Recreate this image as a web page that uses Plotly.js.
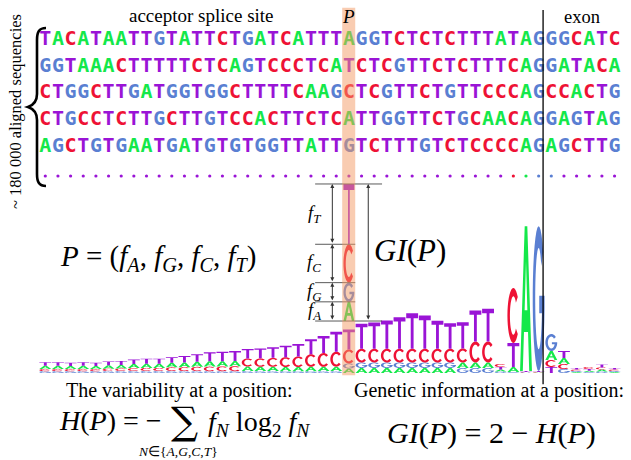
<!DOCTYPE html>
<html><head><meta charset="utf-8">
<script src="https://cdn.plot.ly/plotly-3.0.1.min.js"></script>
<style>html,body{margin:0;padding:0;background:#fff}#chart{width:631px;height:460px}</style>
</head><body><div id="chart"></div>
<script>
// ---------------- data ----------------
const seqRows = [
  "TACATAATTGTATTCTGATCATTTAGGTCTCTCTTTATAGGGCATC",
  "GGTAAACTTTTTCTCAGTCCCTCATCTCGTTCTCTTTCAGGATACA",
  "CTGGCTTGATGGTGGCTTTTCAAGCTCGTTCTGTTCCCAGCCACTG",
  "CTGCCTCTTGCTTGTCCACTTCTCATTGGTTCTGCAACAGGAGTAG",
  "AGCTGTGAATGATGTGTGGTTATTGTCTTTGTCTCCCCAGAGCTTG"
];
// colour of the "..." continuation dots (by nucleotide)
const dotRow = "TTTTTTTTTTTTTTTTTTTTTTTTTTTTTTTTTTTTTCAGGTTTTT";

// sequence-logo heights (bits) per column 1..46
const logoA = [0.043,0.043,0.041,0.043,0.041,0.045,0.047,0.053,0.056,0.056,0.060,0.061,0.067,0.071,0.069,0.069,
  0.060,0.057,0.057,0.056,0.056,0.059,0.057,0.059,
  0.060,
  0.067,0.067,0.067,0.067,0.067,0.067,0.067,0.067,
  0.073,0.073,0.073,
  0.027,0.067,1.933,0.007,0.120,0.080,0.013,0.016,0.027,0.013];
const logoC = [0.029,0.029,0.028,0.029,0.028,0.032,0.033,0.039,0.041,0.041,0.048,0.053,0.057,0.061,0.064,0.067,
  0.107,0.113,0.120,0.131,0.140,0.167,0.184,0.200,
  0.187,
  0.183,0.183,0.183,0.183,0.183,0.183,0.183,0.183,
  0.187,0.280,0.280,
  0.040,0.733,0.007,0.007,0.093,0.067,0.020,0.027,0.027,0.020];
const logoG = [0.024,0.024,0.024,0.024,0.024,0.025,0.027,0.027,0.027,0.027,0.027,0.025,0.025,0.024,0.024,0.024,
  0.027,0.025,0.025,0.024,0.024,0.024,0.025,0.025,
  0.067,
  0.073,0.073,0.073,0.073,0.073,0.073,0.073,0.073,
  0.067,0.067,0.067,
  0.020,0.013,0.007,1.933,0.227,0.053,0.013,0.013,0.020,0.013];
const logoT = [0.047,0.047,0.044,0.047,0.044,0.051,0.053,0.061,0.067,0.067,0.075,0.087,0.100,0.120,0.127,0.133,
  0.127,0.133,0.140,0.153,0.167,0.200,0.227,0.267,
  0.267,
  0.333,0.351,0.377,0.421,0.475,0.444,0.373,0.341,
  0.351,0.413,0.436,
  0.033,0.320,0.011,0.011,0.080,0.093,0.020,0.024,0.040,0.020];

// position P (column 25) frequencies, in stacking order
const pColumn = 25;
const pLetters = ["A","G","C","T"];
const pFreqs   = [0.14, 0.14, 0.28, 0.44];
const pLabels  = ["<i>f</i><sub><i>A</i></sub>","<i>f</i><sub><i>G</i></sub>","<i>f</i><sub><i>C</i></sub>","<i>f</i><sub><i>T</i></sub>"];

// ---------------- styling ----------------
const COL = {A:"#14e84a", C:"#ee1235", G:"#5a7fd2", T:"#9a14d6"};
const W = 631, H = 460;
const SERIF = "Liberation Serif, Times New Roman, serif";

// ---------------- glyphs ----------------
function arc(cx, cy, rx, ry, a0, a1, n){
  const pts=[]; for(let k=0;k<=n;k++){const a=(a0+(a1-a0)*k/n)*Math.PI/180; pts.push([cx+rx*Math.cos(a), cy+ry*Math.sin(a)]);} return pts;
}
function glyphUnit(L, opt){
  opt = opt||{};
  if(L==="T"){
    const b=opt.bar||0.14, s=opt.stem||0.24;
    return [[[0,1],[1,1],[1,1-b],[0.5+s/2,1-b],[0.5+s/2,0],[0.5-s/2,0],[0.5-s/2,1-b],[0,1-b]]];
  }
  if(L==="A"){
    return [[[0,0],[0.39,1],[0.61,1],[1,0],[0.77,0],[0.67,0.27],[0.33,0.27],[0.23,0]],
            [[0.385,0.42],[0.5,0.76],[0.615,0.42]]];
  }
  if(L==="C"){
    const o=arc(0.5,0.5,0.5,0.5,42,318,28), i=arc(0.5,0.5,0.29,0.35,318,42,28);
    return [o.concat(i)];
  }
  // G
  const o=arc(0.5,0.5,0.5,0.5,40,352,30);
  const bar=[[0.995,0.52],[0.55,0.52],[0.55,0.40],[0.79,0.40]];
  const i=arc(0.5,0.5,0.29,0.35,345,40,30);
  return [o.concat(bar,i)];
}
function glyphPath(L, cx, w, y0, h, opt){
  const polys = glyphUnit(L, opt);
  return polys.map(p => "M" + p.map(q => (cx - w/2 + q[0]*w).toFixed(4) + "," + (y0 + q[1]*h).toFixed(5)).join("L") + "Z").join(" ");
}
function glyphShape(L, cx, w, y0, h, opt){
  return {type:"path", xref:"x", yref:"y", path:glyphPath(L,cx,w,y0,h,opt), fillcolor:COL[L], fillrule:"evenodd", line:{width:0}, layer:"above"};
}

// ---------------- traces ----------------
const sx=[], sy=[], st=[], sc=[];
seqRows.forEach((row, r) => {
  for(let i=0;i<row.length;i++){ sx.push(i+1); sy.push(r+1); st.push(row[i]); sc.push(COL[row[i]]); }
});
const seqTrace = {type:"scatter", mode:"text", x:sx, y:sy, text:st, yaxis:"y2",
  textposition:"middle center", cliponaxis:false, hoverinfo:"skip",
  textfont:{family:"DejaVu Sans Mono, monospace", size:20, weight:"bold", color:sc}, showlegend:false};
const dx=[], dy=[], dc=[];
for(let i=0;i<dotRow.length;i++){ dx.push(i+1); dy.push(seqRows.length+1.1); dc.push(COL[dotRow[i]]); }
const dotTrace = {type:"scatter", mode:"markers", x:dx, y:dy, yaxis:"y2", hoverinfo:"skip",
  marker:{size:3.2, color:dc}, showlegend:false, cliponaxis:false};

// ---------------- shapes ----------------
const shapes = [];
for(let i=0;i<logoA.length;i++){
  const col=i+1;
  const stack=[["A",logoA[i]],["C",logoC[i]],["G",logoG[i]],["T",logoT[i]]].sort((a,b)=>a[1]-b[1]);
  let y=0;
  stack.forEach(([L,h])=>{ shapes.push(glyphShape(L,col,0.94,y,h)); y+=h; });
}
// magnified column at P
const magBase = 0.693, magScale = 1.827;
const bounds=[magBase];
{
  let y=magBase;
  pLetters.forEach((L,k)=>{
    const h=pFreqs[k]*magScale;
    shapes.push(glyphShape(L,pColumn,0.86,y,h, L==="T"?{bar:0.1,stem:0.15}:undefined));
    y+=h; bounds.push(y);
  });
}
// bracket lines
const lineStyle={color:"#5a5a5a", width:1};
bounds.forEach((b,k)=>{
  const full = (k===0 || k===bounds.length-1);
  shapes.push({type:"line", xref:"x", yref:"y", x0:22.33, x1: full?27.62:25.5, y0:b, y1:b, line:lineStyle, layer:"above"});
});
// exon boundary
shapes.push({type:"line", xref:"x", yref:"y", x0:40.35, x1:40.35, y0:-0.15, y1:4.84, line:{color:"#000", width:1.3}, layer:"above"});
// curly brace (pixel-space helper -> paper)
function P(x,y){ return (x/W).toFixed(5)+","+(1-y/H).toFixed(5); }
shapes.push({type:"path", xref:"paper", yref:"paper", line:{color:"#000", width:2.6},
  path:"M"+P(46,28)+" C"+P(39,28)+" "+P(37,32)+" "+P(37,40)+" L"+P(37,94)+" C"+P(37,101)+" "+P(34,105)+" "+P(28,107)+
       " C"+P(34,109)+" "+P(37,113)+" "+P(37,120)+" L"+P(37,174)+" C"+P(37,182)+" "+P(39,186)+" "+P(46,186)});
// highlight band
shapes.push({type:"rect", xref:"x", yref:"y", x0:pColumn-0.53, x1:pColumn+0.5, y0:-0.03, y1:4.87,
  fillcolor:"#f49a64", opacity:0.5, line:{width:0}, layer:"above"});

// ---------------- annotations ----------------
function txt(text, x, y, size, o){
  return Object.assign({text, x:x/W, y:1-y/H, xref:"paper", yref:"paper", showarrow:false,
    xanchor:"center", yanchor:"middle", font:{family:SERIF, size, color:"#000"}}, o||{});
}
const ann = [
  txt("acceptor splice site", 201, 15, 19),
  txt("<i>P</i>", 348, 16, 19),
  txt("exon", 582, 17, 18.5),
  txt("~ 180 000 aligned sequencies", 15, 112, 16.5, {textangle:-90}),
  txt("<i>P</i> = (<i>f</i><sub><i>A</i></sub>, <i>f</i><sub><i>G</i></sub>, <i>f</i><sub><i>C</i></sub>, <i>f</i><sub><i>T</i></sub>)", 158, 258, 29),
  txt("<i>GI</i>(<i>P</i>)", 410, 250, 31),
  txt("The variability at a position:", 179, 390, 20),
  txt("Genetic information at a position:", 489, 390, 20),
  txt("<i>H</i>(<i>P</i>) = −", 164, 420, 28, {xanchor:"right"}),
  txt("∑", 184, 421, 38, {font:{family:"DejaVu Serif, serif", size:38, color:"#000"}}),
  txt("<i>f</i><sub><i>N</i></sub> log<sub>2</sub> <i>f</i><sub><i>N</i></sub>", 206, 423, 28, {xanchor:"left"}),
  txt("<i>N</i>∈{<i>A</i>,<i>G</i>,<i>C</i>,<i>T</i>}", 178, 451, 13.5),
  txt("<i>GI</i>(<i>P</i>) = 2 − <i>H</i>(<i>P</i>)", 491, 433, 30)
];
// f labels (data coords, segment midpoints)
pLabels.forEach((lab,k)=>{
  ann.push({text:lab, x:22.25, y:(bounds[k]+bounds[k+1])/2, xref:"x", yref:"y", showarrow:false,
    xanchor:"center", yanchor:"middle", font:{family:SERIF, size:18.5, color:"#000"}});
});
// arrows
function arrow(x, y0, y1){
  return {x, y:y1, ax:x, ay:y0, xref:"x", yref:"y", axref:"x", ayref:"y", text:"", showarrow:true,
    arrowhead:2, arrowside:"end+start", arrowsize:0.8, arrowwidth:1, arrowcolor:"#333", standoff:0, startstandoff:0};
}
for(let k=0;k<pLetters.length;k++) ann.push(arrow(23.69, bounds[k], bounds[k+1]));
ann.push(arrow(26.53, bounds[0], bounds[bounds.length-1]));

const layout = {
  width:W, height:H, margin:{l:0,r:0,t:0,b:0}, paper_bgcolor:"#fff", plot_bgcolor:"#fff",
  xaxis:{range:[-2.581,47.30], visible:false, fixedrange:true},
  yaxis:{range:[-1.16,4.973], visible:false, fixedrange:true},
  yaxis2:{range:[16.75,-0.5], overlaying:"y", visible:false, fixedrange:true},
  shapes, annotations:ann, showlegend:false
};
Plotly.newPlot("chart", [seqTrace, dotTrace], layout, {staticPlot:true, displayModeBar:false});
</script></body></html>
